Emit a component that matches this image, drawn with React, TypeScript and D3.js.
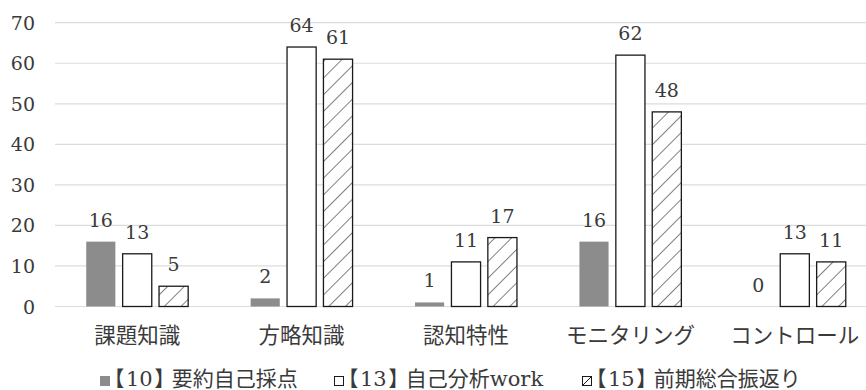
import React from 'react';
import * as d3 from 'd3';

// Chart data
const categories = ['課題知識', '方略知識', '認知特性', 'モニタリング', 'コントロール'];
const seriesNames = ['【10】要約自己採点', '【13】自己分析work', '【15】前期総合振返り'];
const summarySelfScore = [16, 2, 1, 16, 0];
const selfAnalysisWork = [13, 64, 11, 62, 13];
const termReview = [5, 61, 17, 48, 11];
const yTicks = [0, 10, 20, 30, 40, 50, 60, 70];

const seriesValues = [summarySelfScore, selfAnalysisWork, termReview];

const W = 866;
const H = 390;
const plotLeft = 55;
const plotRight = 877;
const plotTop = 22.7;
const plotBottom = 306.5;

const serif = '"DejaVu Serif", "Noto Sans CJK JP", serif';
const cjk = '"Noto Sans CJK JP", "DejaVu Sans", sans-serif';
const textColor = '#3a3a3a';

export default function App() {
  const x0 = d3
    .scaleBand<string>()
    .domain(categories)
    .range([plotLeft, plotRight])
    .paddingInner(0.38)
    .paddingOuter(0.19);
  const x1 = d3
    .scaleBand<number>()
    .domain([0, 1, 2])
    .range([0, x0.bandwidth()])
    .paddingInner(0.2);
  const y = d3.scaleLinear().domain([0, 70]).range([plotBottom, plotTop]);

  const fills = ['#8c8c8c', '#ffffff', 'url(#hatch)'];
  const strokes = ['none', '#1a1a1a', '#1a1a1a'];

  const legendX = [100, 334, 582];
  const legendY = 386;

  return (
    <svg
      width={W}
      height={H}
      viewBox={`0 0 ${W} ${H}`}
      style={{ position: 'absolute', left: 0, top: 0, background: '#fff' }}
    >
      <defs>
        <pattern
          id="hatch"
          patternUnits="userSpaceOnUse"
          width={11.8}
          height={11.8}
          patternTransform="rotate(45)"
        >
          <rect width={11.8} height={11.8} fill="#fff" />
          <line x1={0} y1={0} x2={0} y2={11.8} stroke="#1a1a1a" strokeWidth={1.1} />
        </pattern>
      </defs>

      {/* gridlines */}
      {yTicks.map((t) => (
        <line
          key={`g${t}`}
          x1={plotLeft}
          x2={plotRight}
          y1={y(t)}
          y2={y(t)}
          stroke="#dcdcdc"
          strokeWidth={1.2}
        />
      ))}

      {/* y tick labels */}
      {yTicks.map((t) => (
        <text
          key={`t${t}`}
          x={35}
          y={y(t) + 7}
          textAnchor="end"
          fontFamily={serif}
          fontSize={19}
          fill={textColor}
        >
          {t}
        </text>
      ))}

      {/* bars */}
      {categories.map((c, ci) => (
        <g key={c} transform={`translate(${x0(c)},0)`}>
          {seriesValues.map((vals, si) => {
            const v = vals[ci];
            const bx = x1(si)!;
            const bw = x1.bandwidth();
            return (
              <g key={si}>
                {v > 0 && (
                  <rect
                    x={bx}
                    y={y(v)}
                    width={bw}
                    height={y(0) - y(v)}
                    fill={fills[si]}
                    stroke={strokes[si]}
                    strokeWidth={1.3}
                  />
                )}
                <text
                  x={bx + bw / 2}
                  y={y(v) - 15}
                  textAnchor="middle"
                  fontFamily={serif}
                  fontSize={19}
                  fill={textColor}
                >
                  {v}
                </text>
              </g>
            );
          })}
        </g>
      ))}

      {/* category labels */}
      {categories.map((c) => (
        <text
          key={`c${c}`}
          x={x0(c)! + x0.bandwidth() / 2}
          y={343}
          textAnchor="middle"
          fontFamily={cjk}
          fontSize={21.5}
          fill={textColor}
        >
          {c}
        </text>
      ))}

      {/* legend */}
      {seriesNames.map((name, si) => {
        const lx = legendX[si];
        const sq = 10;
        const sy = legendY - 10;
        const m = name.match(/^【(\d+)】(.*)$/);
        const num = m ? m[1] : '';
        const rest = m ? m[2] : name;
        return (
          <g key={name}>
            {si === 0 && <rect x={lx} y={sy} width={sq} height={sq} fill="#8c8c8c" />}
            {si === 1 && (
              <rect x={lx + 0.5} y={sy + 0.5} width={sq - 1} height={sq - 1} fill="#fff" stroke="#1a1a1a" strokeWidth={1} />
            )}
            {si === 2 && (
              <g>
                <rect x={lx + 0.5} y={sy + 0.5} width={sq - 1} height={sq - 1} fill="#fff" stroke="#1a1a1a" strokeWidth={1} />
                <line x1={lx + 0.5} y1={sy + sq - 0.5} x2={lx + sq - 0.5} y2={sy + 0.5} stroke="#1a1a1a" strokeWidth={1} />
              </g>
            )}
            <text
              x={lx + 14}
              y={legendY}
              fontFamily={serif}
              fontSize={21}
              fill={textColor}
              style={{ fontFeatureSettings: '"halt"' }}
            >
              <tspan>{'【'}</tspan>
              <tspan dx={1.5}>{num}</tspan>
              <tspan dx={1.5}>{'】'}</tspan>
              <tspan dx={7}>{rest}</tspan>
            </text>
          </g>
        );
      })}
    </svg>
  );
}
